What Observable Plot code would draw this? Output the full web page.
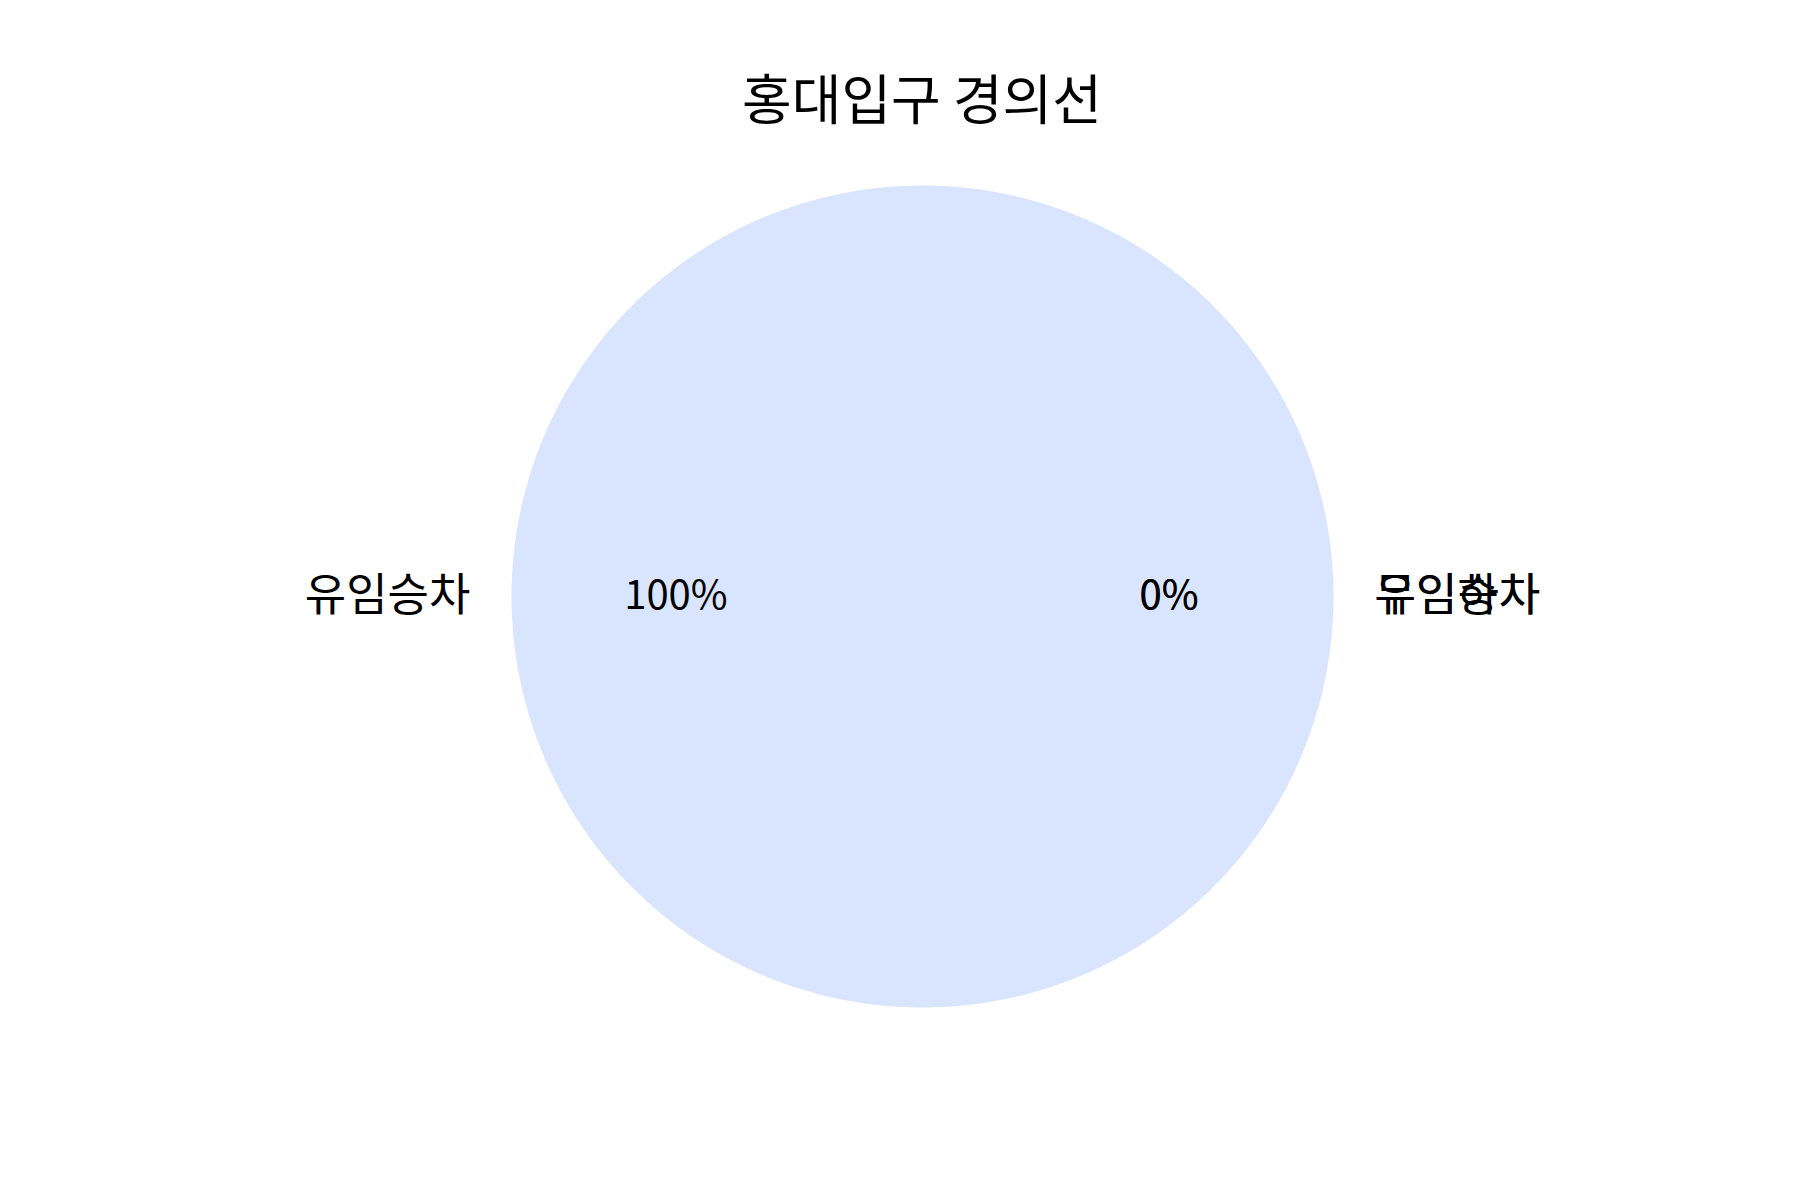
<!DOCTYPE html>
<html>
<head>
<meta charset="utf-8">
<script src="https://cdn.jsdelivr.net/npm/d3@7"></script>
<script src="https://cdn.jsdelivr.net/npm/@observablehq/plot@0.6"></script>
<style>
  html, body { margin: 0; padding: 0; background: #ffffff; }
  body { width: 1800px; height: 1200px; overflow: hidden; font-family: "Noto Sans CJK KR", "Noto Sans", sans-serif; color: #000; }
  #title { height: 160px; box-sizing: border-box; padding-top: 70px; font-size: 54px; line-height: 1; text-align: center; padding-left: 44px; }
  #chart svg { display: block; }
</style>
</head>
<body>
<div id="title"></div>
<div id="chart"></div>
<script>
// ---- data ----
const chartTitle = "홍대입구 경의선";
const categories = ["유임승차", "무임승차", "유임하차"];
const values = [100, 0, 0];
const colors = ["#d9e4fe", "#fde0d4", "#dcf3df"];

// ---- layout ----
const W = 1800, H = 1040;
const cx = 922, cy = 436, R = 411;
const labelDistance = 1.1, pctDistance = 0.6;

document.getElementById("title").textContent = chartTitle;

const total = d3.sum(values);
let acc = 0;
const wedges = categories.map((c, i) => {
  const t1 = acc / total * 360;
  acc += values[i];
  const t2 = acc / total * 360;
  return {category: c, value: values[i], t1, t2, color: colors[i]};
});

// polygon points for each wedge (matplotlib: counterclockwise from +x axis)
const poly = [];
wedges.forEach(w => {
  const n = Math.max(2, Math.ceil((w.t2 - w.t1) / 0.5));
  poly.push({category: w.category, x: 0, y: 0});
  for (let k = 0; k <= n; k++) {
    const a = (w.t1 + (w.t2 - w.t1) * k / n) * Math.PI / 180;
    poly.push({category: w.category, x: Math.cos(a), y: Math.sin(a)});
  }
  poly.push({category: w.category, x: 0, y: 0});
});

const labels = wedges.map(w => {
  const a = (w.t1 + w.t2) / 2 * Math.PI / 180;
  return {
    category: w.category,
    pct: (w.value / total * 100).toFixed(0) + "%",
    lx: labelDistance * Math.cos(a), ly: labelDistance * Math.sin(a),
    px: pctDistance * Math.cos(a), py: pctDistance * Math.sin(a)
  };
});

const plot = Plot.plot({
  width: W, height: H, margin: 0,
  style: {fontFamily: '"Noto Sans CJK KR", "Noto Sans", sans-serif', color: "#000", background: "#fff"},
  x: {domain: [-cx / R, (W - cx) / R], axis: null},
  y: {domain: [-(H - cy) / R, cy / R], axis: null},
  color: {domain: categories, range: colors},
  marks: [
    Plot.line(poly, {x: "x", y: "y", z: "category", fill: "category", stroke: null, curve: "linear"}),
    Plot.text(labels.filter(d => d.lx < 0), {x: "lx", y: "ly", text: "category", textAnchor: "end", fontSize: 45, fill: "#000"}),
    Plot.text(labels.filter(d => d.lx >= 0), {x: "lx", y: "ly", text: "category", textAnchor: "start", fontSize: 45, fill: "#000"}),
    Plot.text(labels, {x: "px", y: "py", text: "pct", textAnchor: "middle", fontSize: 40, fill: "#000"})
  ]
});
document.getElementById("chart").appendChild(plot);
</script>
</body>
</html>
